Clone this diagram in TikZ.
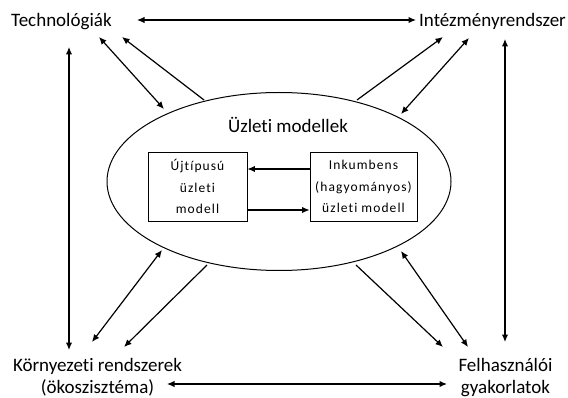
\documentclass[tikz,border=0pt]{standalone}
\usepackage{fontspec}
\setmainfont[RawFeature={-liga}]{Carlito}
\usetikzlibrary{arrows.meta,shapes.geometric}
\begin{document}
\begin{tikzpicture}[x=1pt,y=-1pt,
  lbl/.style={font=\fontsize{19}{22}\selectfont, inner sep=0pt, align=center},
  boxnode/.style={draw, line width=0.9pt, inner sep=0pt, align=center,
    font=\fontsize{13.5}{21.5}\selectfont\addfontfeatures{LetterSpace=8}},
  tip/.tip={Latex[length=7.5pt,width=6.5pt]},
  arr/.style={line width=1.2pt, -tip},
  darr/.style={line width=1.2pt, tip-tip}]
\useasboundingbox (0,0) rectangle (568,398);

% ellipse and title
\node[ellipse, draw, line width=1pt, minimum width=344pt, minimum height=178pt, inner sep=0pt] (ell) at (279,181.5) {};
\node[lbl, anchor=base] (title) at (288,133) {Üzleti modellek};

% inner boxes
\node[boxnode, minimum width=99pt, minimum height=69pt] (new) at (197.5,186.5) {Újtípusú\\üzleti\\modell};
\node[boxnode, minimum width=107pt, minimum height=69pt] (old) at (363.5,186.5) {Inkumbens\\(hagyományos)\\üzleti modell};
\coordinate (hu) at (0,169);
\coordinate (hl) at (0,210);
\draw[arr] (old.west |- hu) -- (new.east |- hu);
\draw[arr] (new.east |- hl) -- (old.west |- hl);

% corner labels
\node[lbl, anchor=base west] (tech) at (11,27) {Technológiák};
\node[lbl, anchor=base east] (inst) at (566,27) {Intézményrendszer};
\node[lbl, anchor=base] (env) at (97.5,393) {Környezeti rendszerek\\(ökoszisztéma)};
\node[lbl, anchor=base] (user) at (505.5,393) {Felhasználói\\gyakorlatok};

% outer connector end points
\coordinate (t1) at (137,20);
\coordinate (i1) at (416,20);
\coordinate (t2) at (69,47);
\coordinate (e2) at (69,350);
\coordinate (i2) at (505,39);
\coordinate (u2) at (505,342);
\coordinate (e3) at (167,384);
\coordinate (u3) at (447,384);
\draw[darr] (t1) -- (i1);
\draw[darr] (t2) -- (e2);
\draw[darr] (i2) -- (u2);
\draw[darr] (e3) -- (u3);

% diagonal connectors
\coordinate (tlA) at (99,37);   \coordinate (tlB) at (164,109);
\coordinate (tlC) at (204,100); \coordinate (tlD) at (122,37);
\coordinate (trA) at (357,100); \coordinate (trB) at (443,37);
\coordinate (trC) at (469,38);  \coordinate (trD) at (401,114);
\coordinate (blA) at (162,250); \coordinate (blB) at (92,342);
\coordinate (blC) at (207,265); \coordinate (blD) at (124,347);
\coordinate (brA) at (356,265); \coordinate (brB) at (443,347);
\coordinate (brC) at (401,251); \coordinate (brD) at (468,347);
\draw[darr] (tlA) -- (tlB);
\draw[arr] (tlC) -- (tlD);
\draw[arr] (trA) -- (trB);
\draw[darr] (trC) -- (trD);
\draw[darr] (blA) -- (blB);
\draw[arr] (blC) -- (blD);
\draw[arr] (brA) -- (brB);
\draw[darr] (brC) -- (brD);
\end{tikzpicture}
\end{document}
